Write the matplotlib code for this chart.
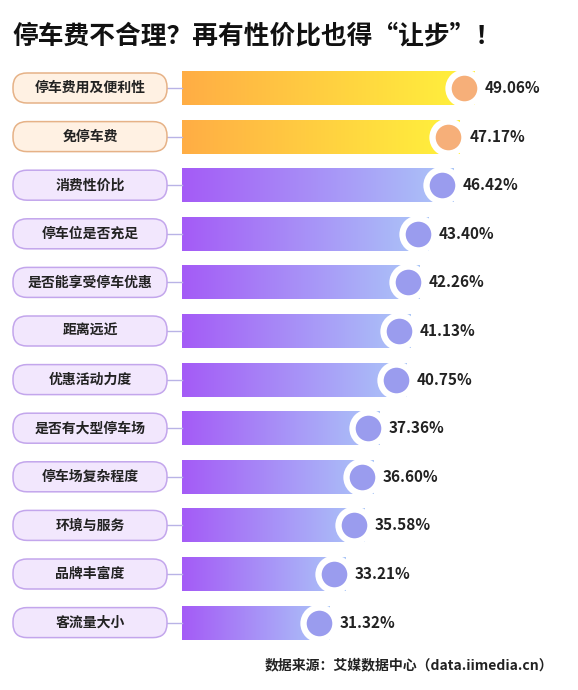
import numpy as np
import matplotlib.pyplot as plt
from matplotlib.patches import FancyBboxPatch, Rectangle
from matplotlib.colors import LinearSegmentedColormap

plt.rcParams['font.family'] = ['Noto Sans CJK SC', 'DejaVu Sans']

categories = ['停车费用及便利性', '免停车费', '消费性价比', '停车位是否充足', '是否能享受停车优惠',
              '距离远近', '优惠活动力度', '是否有大型停车场', '停车场复杂程度', '环境与服务',
              '品牌丰富度', '客流量大小']
values = [49.06, 47.17, 46.42, 43.40, 42.26, 41.13, 40.75, 37.36, 36.60, 35.58, 33.21, 31.32]
highlight = [True, True] + [False] * 10

W, H = 578, 690
px_per = 8.17          # pixels per percent
x0_px = 74             # pixel position of 0%
row0, row_step = 88, 48.6

fig = plt.figure(figsize=(W / 100, H / 100), dpi=100)
ax = fig.add_axes([0, 0, 1, 1])
ax.set_xlim(-x0_px / px_per, (W - x0_px) / px_per)
ax.set_ylim((H - row0) / row_step, -row0 / row_step)
ax.axis('off')

def px(x):
    return (x - x0_px) / px_per

bar_left = px(182)
bar_h = 34 / row_step
pill_h = 30 / row_step
orange = LinearSegmentedColormap.from_list('o', ['#FFAD45', '#FFF33C'])
purple = LinearSegmentedColormap.from_list('p', ['#A45BF6', '#ABC7F8'])
grad = np.linspace(0, 1, 256).reshape(1, -1)

for i, (cat, v, hl) in enumerate(zip(categories, values, highlight)):
    # label pill
    fill, edge = ('#FFF1E3', '#E6B287') if hl else ('#F2E7FD', '#C3A6EC')
    pill = FancyBboxPatch((px(13), i - pill_h / 2), px(167) - px(13), pill_h,
                          boxstyle='round,pad=0,rounding_size=%f' % (14 / px_per),
                          mutation_aspect=px_per / row_step,
                          fc=fill, ec=edge, lw=1.1, zorder=3)
    ax.add_patch(pill)
    ax.text((px(13) + px(167)) / 2, i, cat, ha='center', va='center',
            fontsize=10, fontweight='bold', color='#222222', zorder=4)
    ax.plot([px(167), bar_left], [i, i], color='#B9B3E6', lw=1, zorder=2)
    # gradient bar
    rect = Rectangle((bar_left, i - bar_h / 2), v - bar_left, bar_h, fc='none', ec='none')
    ax.add_patch(rect)
    im = ax.imshow(grad, cmap=orange if hl else purple, aspect='auto',
                   extent=[bar_left, v, i + bar_h / 2, i - bar_h / 2], zorder=1)
    im.set_clip_path(rect)
    # end dot
    cx = v - 1.35
    ax.scatter([cx], [i], s=760, color='white', zorder=5, lw=0)
    ax.scatter([cx], [i], s=340, color='#F6AF79' if hl else '#9A9CEE', zorder=6, lw=0)
    ax.text(v + 1.2, i, f'{v:.2f}%', ha='left', va='center', fontsize=11,
            fontweight='bold', color='#222222')

fig.text(12 / W, 1 - 36 / H, '停车费不合理？再有性价比也得“让步”！', ha='left', va='center',
         fontsize=18.5, fontweight='bold', color='#111111')
fig.text(553 / W, 1 - 665 / H, '数据来源：艾媒数据中心（data.iimedia.cn）', ha='right', va='center',
         fontsize=10, fontweight='bold', color='#222222')

fig.savefig('out.png', dpi=100, facecolor='white')
